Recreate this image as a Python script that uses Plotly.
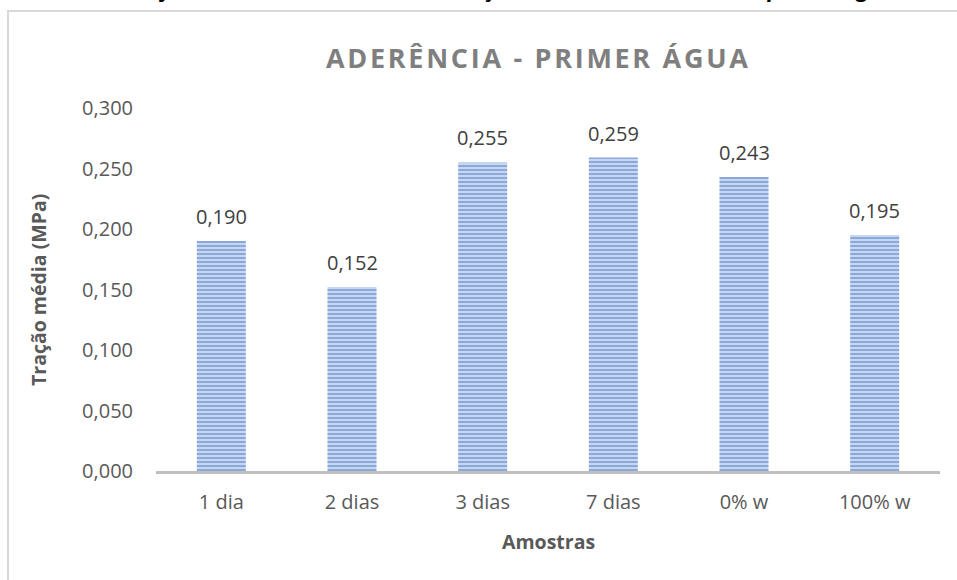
import plotly.graph_objects as go

categories = ["1 dia", "2 dias", "3 dias", "7 dias", "0% w", "100% w"]
tracao_media = [0.190, 0.152, 0.255, 0.259, 0.243, 0.195]
y_ticks = [0.0, 0.05, 0.10, 0.15, 0.20, 0.25, 0.30]

chart_title = "ADERÊNCIA - PRIMER ÁGUA"
caption = "Gráfico 2 – Resistência média à tração obtida no sistema com primer água"
y_title = "Tração média (MPa)"
x_title = "Amostras"

FONT = "'Open Sans', sans-serif"
GREY = "#595959"

def spaced(s):
    return "\u200a".join(list(s))

fig = go.Figure()
fig.add_trace(go.Bar(
    x=categories, y=tracao_media,
    width=0.375,
    marker=dict(color="#b4c9ea", line=dict(width=0),
                pattern=dict(shape="-", fgcolor="#4676c2", bgcolor="#cfdcf2",
                             size=4, solidity=0.55, fillmode="overlay")),
    cliponaxis=False,
))

annotations = [
    dict(text="<b>" + spaced(chart_title) + "</b>", x=0.486, y=1.138, xref="paper", yref="paper",
         showarrow=False, font=dict(size=27, color="#7f7f7f", family=FONT),
         xanchor="center", yanchor="middle"),
    dict(text="<b><i>" + caption + "</i></b>", x=0.4515, y=1.283, xref="paper", yref="paper",
         showarrow=False, font=dict(size=22, color="#000000", family=FONT),
         xanchor="center", yanchor="bottom"),
    dict(text="<b>" + y_title + "</b>", x=-0.1505, y=0.4986, xref="paper", yref="paper",
         showarrow=False, textangle=-90, font=dict(size=19.5, color=GREY, family=FONT),
         xanchor="center", yanchor="middle"),
    dict(text="<b>" + x_title + "</b>", x=0.5, y=-0.193, xref="paper", yref="paper",
         showarrow=False, font=dict(size=19.5, color=GREY, family=FONT),
         xanchor="center", yanchor="middle"),
]
for c, v in zip(categories, tracao_media):
    annotations.append(dict(x=c, y=v, xref="x", yref="y", text=f"{v:.3f}".replace(".", ","),
                            showarrow=False, xanchor="center", yanchor="bottom", yshift=9,
                            font=dict(size=20, color="#404040", family=FONT)))

fig.update_layout(
    width=957, height=580,
    margin=dict(l=156, r=17, t=108, b=109),
    paper_bgcolor="white", plot_bgcolor="white",
    separators=",.",
    showlegend=False,
    bargap=0.625,
    font=dict(family=FONT, color=GREY),
    xaxis=dict(showgrid=False, showline=True, linecolor="#bfbfbf", linewidth=3,
               ticks="", tickfont=dict(size=20, color=GREY), ticklabelstandoff=11),
    yaxis=dict(range=[0, 0.3], tickvals=y_ticks, tickformat=".3f", showgrid=False,
               zeroline=False, showline=False, ticks="",
               tickfont=dict(size=20, color=GREY), ticklabelstandoff=22),
    shapes=[dict(type="rect", xref="paper", yref="paper",
                 x0=-0.1888, x1=1.2, y0=-0.5, y1=1.2672,
                 line=dict(color="#d9d9d9", width=2), fillcolor="rgba(0,0,0,0)",
                 layer="below")],
    annotations=annotations,
)

fig.write_html("out.html", config={"displayModeBar": False},
               post_script="document.body.style.margin='0';document.body.style.overflow='hidden';")
